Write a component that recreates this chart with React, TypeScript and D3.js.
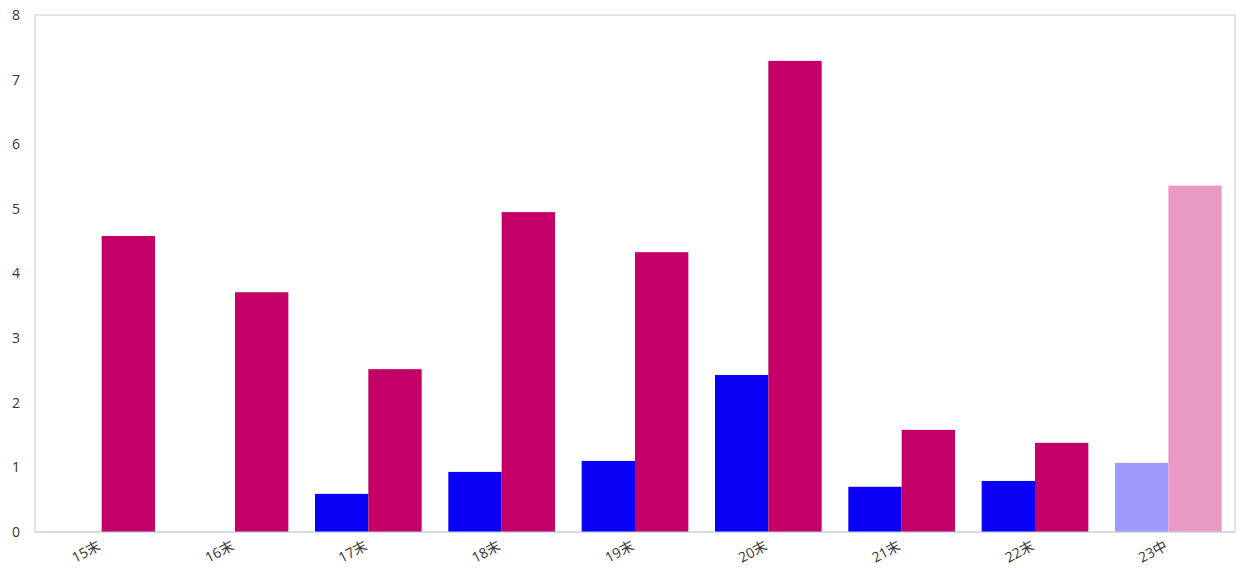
import { scaleBand, scaleLinear } from 'd3'

const categories = ['15末', '16末', '17末', '18末', '19末', '20末', '21末', '22末', '23中']
const blueValues: (number | null)[] = [null, null, 0.59, 0.93, 1.1, 2.43, 0.7, 0.79, 1.07]
const magentaValues = [4.58, 3.71, 2.52, 4.95, 4.33, 7.29, 1.58, 1.38, 5.36]
const yTicks = [0, 1, 2, 3, 4, 5, 6, 7, 8]

const App = () => {
  const width = 1246
  const height = 568
  const margin = { top: 15, right: 11, bottom: 36, left: 35 }
  const plotWidth = width - margin.left - margin.right
  const plotHeight = height - margin.top - margin.bottom

  const xScale = scaleBand<string>().domain(categories).range([0, plotWidth])
  const inner = scaleBand<string>().domain(['blue', 'magenta']).range([0, xScale.bandwidth()]).paddingOuter(0.25)
  const yScale = scaleLinear().domain([0, 8]).range([plotHeight, 0])

  const lastIndex = categories.length - 1
  const font = '"Open Sans", "Noto Sans CJK SC", sans-serif'

  return (
    <svg width={width} height={height} style={{ position: 'absolute', left: 0, top: 0 }}>
      <g transform={`translate(${margin.left}, ${margin.top})`}>
        <rect x={0} y={0} width={plotWidth} height={plotHeight} fill="none" stroke="#cccccc" strokeWidth={1} />
        {categories.map((c, i) => {
          const b = blueValues[i]
          const m = magentaValues[i]
          const x0 = xScale(c) || 0
          return (
            <g key={c}>
              {b !== null && (
                <rect
                  x={x0 + (inner('blue') || 0)}
                  y={yScale(b)}
                  width={inner.bandwidth()}
                  height={plotHeight - yScale(b)}
                  fill={i === lastIndex ? '#9f9bfd' : '#0a00f5'}
                />
              )}
              <rect
                x={x0 + (inner('magenta') || 0)}
                y={yScale(m)}
                width={inner.bandwidth()}
                height={plotHeight - yScale(m)}
                fill={i === lastIndex ? '#e89ac4' : '#c40068'}
              />
            </g>
          )
        })}
        <line x1={0} x2={plotWidth} y1={plotHeight} y2={plotHeight} stroke="#c4d3e6" strokeWidth={1} />
        {yTicks.map(t => (
          <text
            key={t}
            x={-15}
            y={yScale(t)}
            dy="0.35em"
            textAnchor="end"
            fontSize={14}
            fill="#333"
            fontFamily={font}
          >
            {t}
          </text>
        ))}
        {categories.map(c => {
          const cx = (xScale(c) || 0) + xScale.bandwidth() / 2
          const cy = plotHeight + 17
          return (
            <text
              key={c}
              x={cx}
              y={cy}
              textAnchor="end"
              fontSize={14}
              fill="#333"
              fontFamily={font}
              transform={`rotate(-28, ${cx}, ${cy})`}
            >
              {c}
            </text>
          )
        })}
      </g>
    </svg>
  )
}

export default App
